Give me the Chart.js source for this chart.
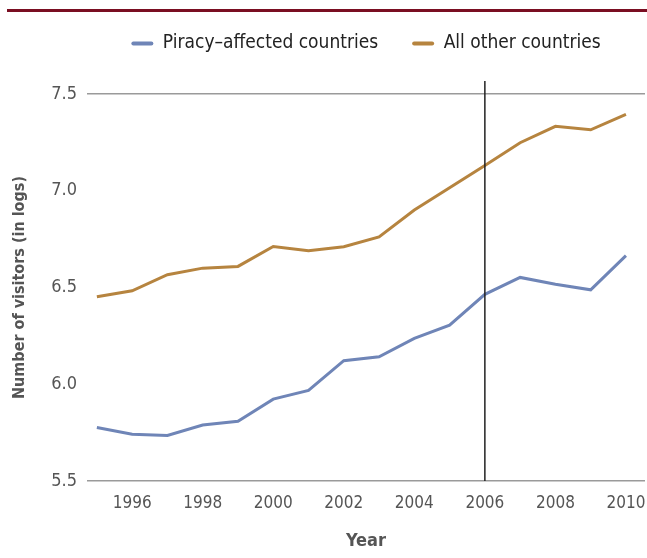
<!DOCTYPE html>
<html>
<head>
<meta charset="utf-8">
<script src="https://cdn.jsdelivr.net/npm/chart.js@4.4.1/dist/chart.umd.min.js"></script>
<style>
  html, body { margin: 0; padding: 0; background: #fff; }
  #box { width: 647px; height: 558px; }
</style>
</head>
<body>
<div id="box"><canvas id="grafico"></canvas></div>
<script>
const anos = [1995, 1996, 1997, 1998, 1999, 2000, 2001, 2002, 2003, 2004, 2005, 2006, 2007, 2008, 2009, 2010];
const pirataria = [5.776, 5.742, 5.735, 5.789, 5.809, 5.923, 5.968, 6.122, 6.142, 6.237, 6.305, 6.465, 6.552, 6.517, 6.488, 6.665];
const outros = [6.452, 6.483, 6.566, 6.600, 6.609, 6.712, 6.690, 6.711, 6.761, 6.900, 7.015, 7.130, 7.248, 7.333, 7.315, 7.395];
const ticksX = [1996, 1998, 2000, 2002, 2004, 2006, 2008, 2010];
const ticksY = [5.5, 6.0, 6.5, 7.0, 7.5];
const anoMarcado = 2006;

const fonte = '"DejaVu Sans Condensed", "Liberation Sans Narrow", "Roboto", sans-serif';
const cinza = '#555555';
const azul = '#6f85b7';
const dourado = '#b6843f';

function pontos(valores) {
    return anos.map(function (ano, i) { return { x: ano, y: valores[i] }; });
}

// linha vermelha no topo + linha vertical em 2006
const extras = {
    id: 'extras',
    beforeInit(chart) {
        const fitOriginal = chart.legend.fit;
        chart.legend.fit = function () {
            fitOriginal.bind(chart.legend)();
            this.height += 31;
        };
    },
    beforeDraw(chart) {
        const ctx = chart.ctx;
        ctx.save();
        ctx.fillStyle = '#7a0e22';
        ctx.fillRect(7, 9, 640, 3);
        ctx.restore();
    },
    afterDatasetsDraw(chart) {
        const ctx = chart.ctx;
        const x = chart.scales.x.getPixelForValue(anoMarcado);
        ctx.save();
        ctx.strokeStyle = '#222222';
        ctx.lineWidth = 1.5;
        ctx.beginPath();
        ctx.moveTo(x, chart.chartArea.top - 13);
        ctx.lineTo(x, chart.chartArea.bottom);
        ctx.stroke();
        ctx.restore();
    }
};

new Chart(document.getElementById('grafico'), {
    type: 'line',
    data: {
        datasets: [{
            label: 'Piracy\u2013affected countries',
            data: pontos(pirataria),
            borderColor: azul,
            backgroundColor: azul,
            borderWidth: 3,
            pointRadius: 0,
            tension: 0
        }, {
            label: 'All other countries',
            data: pontos(outros),
            borderColor: dourado,
            backgroundColor: dourado,
            borderWidth: 3,
            pointRadius: 0,
            tension: 0
        }]
    },
    options: {
        responsive: true,
        maintainAspectRatio: false,
        animation: false,
        layout: { padding: { top: 0, right: 2, bottom: 6, left: 0 } },
        plugins: {
            tooltip: { enabled: false },
            legend: {
                position: 'top',
                fullSize: false,
                labels: {
                    color: '#222222',
                    font: { family: fonte, size: 19 },
                    boxWidth: 22,
                    boxHeight: 4,
                    padding: 34,
                    useBorderRadius: true,
                    borderRadius: 2,
                    generateLabels(chart) {
                        return chart.data.datasets.map(function (ds, i) {
                            return {
                                text: ds.label,
                                fillStyle: ds.borderColor,
                                strokeStyle: ds.borderColor,
                                lineWidth: 0,
                                borderRadius: 2,
                                fontColor: '#222222',
                                datasetIndex: i
                            };
                        });
                    }
                }
            }
        },
        scales: {
            x: {
                type: 'linear',
                min: 1994.72,
                max: 2010.54,
                afterBuildTicks(axis) {
                    axis.ticks = ticksX.map(function (v) { return { value: v }; });
                },
                afterFit(axis) {
                    axis.paddingRight = 0;
                    axis.paddingLeft = 0;
                },
                grid: { display: false },
                border: { display: false },
                ticks: {
                    color: cinza,
                    font: { family: fonte, size: 17 },
                    padding: 4,
                    maxRotation: 0,
                    callback: function (v) { return String(v); }
                },
                title: {
                    display: true,
                    text: 'Year',
                    color: cinza,
                    font: { family: fonte, size: 18, weight: 'bold' },
                    padding: { top: 13, bottom: 0 }
                }
            },
            y: {
                min: 5.5,
                max: 7.5,
                afterBuildTicks(axis) {
                    axis.ticks = ticksY.map(function (v) { return { value: v }; });
                },
                afterFit(axis) {
                    axis.width = 87;
                },
                grid: {
                    drawTicks: false,
                    lineWidth: 1.5,
                    color: function (c) {
                        if (c.tick && (c.tick.value === 7.5 || c.tick.value === 5.5)) return '#9a9a9a';
                        return 'rgba(0,0,0,0)';
                    }
                },
                border: { display: false },
                ticks: {
                    color: cinza,
                    font: { family: fonte, size: 18 },
                    padding: 10,
                    callback: function (v) { return Number(v).toFixed(1); }
                },
                title: {
                    display: true,
                    text: 'Number of visitors (in logs)',
                    color: cinza,
                    font: { family: fonte, size: 16, weight: 'bold' },
                    padding: { top: 10, bottom: 0 }
                }
            }
        }
    },
    plugins: [extras]
});
</script>
</body>
</html>
